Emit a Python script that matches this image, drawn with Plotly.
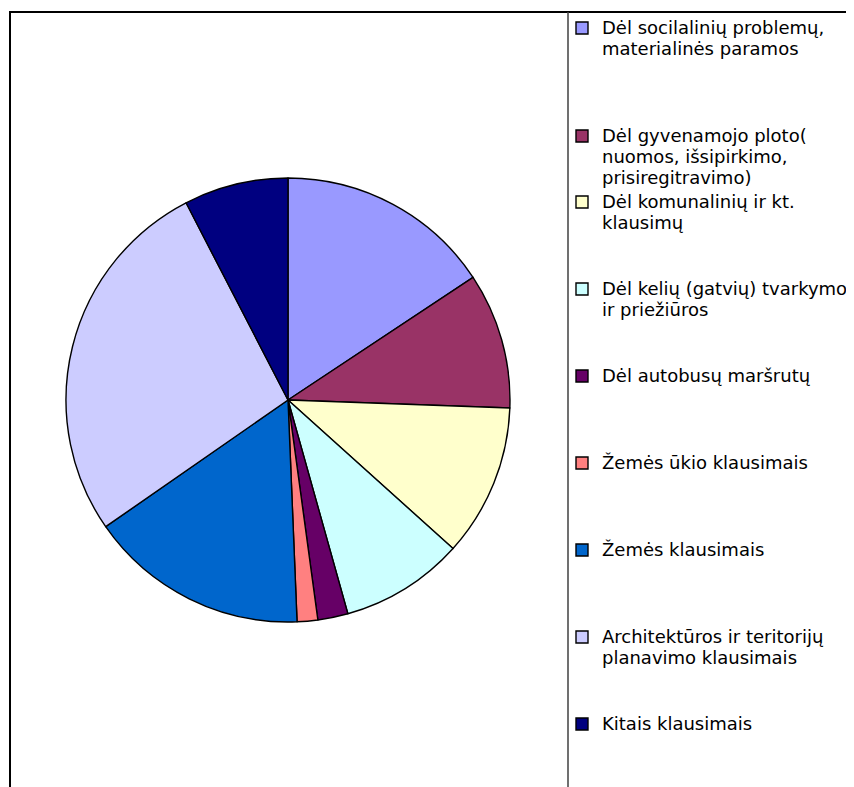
import plotly.graph_objects as go

# ---- data ----
category_lines = [
    ["Dėl socilalinių problemų,", "materialinės paramos"],
    ["Dėl gyvenamojo ploto(", "nuomos, išsipirkimo,", "prisiregitravimo)"],
    ["Dėl komunalinių ir kt.", "klausimų"],
    ["Dėl kelių (gatvių) tvarkymo", "ir priežiūros"],
    ["Dėl autobusų maršrutų"],
    ["Žemės ūkio klausimais"],
    ["Žemės klausimais"],
    ["Architektūros ir teritorijų", "planavimo klausimais"],
    ["Kitais klausimais"],
]
values = [15.7, 9.9, 11.1, 9.0, 2.2, 1.5, 16.0, 27.1, 7.6]
colors = ["#9999FF", "#993366", "#FFFFCC", "#CCFFFF", "#660066",
          "#FF8080", "#0066CC", "#CCCCFF", "#000080"]

# ---- legend text layout (blank lines spread the entries like the original) ----
legend_padding = [3, 0, 2, 2, 3, 3, 3, 2, 0]
TEXT_PX = 18
FONT = "DejaVu Sans, Liberation Sans, Arial, sans-serif"


def legend_label(lines, pad):
    body = "<br>".join(f'<span style="font-size:{TEXT_PX}px">{ln}</span>' for ln in lines)
    return body + "<br>\u00a0" * pad


labels = [legend_label(l, p) for l, p in zip(category_lines, legend_padding)]

W, H = 854, 787
cx, cy, r = 280, 392, 222   # pie centre / radius in figure pixels

fig = go.Figure(
    go.Pie(
        labels=labels,
        values=values,
        sort=False,
        direction="clockwise",
        rotation=0,
        textinfo="none",
        hoverinfo="percent",
        marker=dict(colors=colors, line=dict(color="black", width=1.4)),
        domain=dict(x=[(cx - r) / W, (cx + r) / W],
                    y=[(H - cy - r) / H, (H - cy + r) / H]),
    )
)

fig.update_layout(
    width=W,
    height=H,
    margin=dict(l=0, r=0, t=0, b=0, autoexpand=False),
    paper_bgcolor="white",
    plot_bgcolor="white",
    font=dict(family=FONT, color="black"),
    showlegend=True,
    legend=dict(
        x=554 / W, xanchor="left",
        y=1 - 3 / H, yanchor="top",
        bgcolor="rgba(0,0,0,0)",
        borderwidth=0,
        valign="top",
        font=dict(size=21 / 1.3, family=FONT, color="black"),
    ),
    shapes=[
        dict(type="rect", xref="paper", yref="paper",
             x0=2 / W, x1=1.2, y0=-0.2, y1=1 - 4 / H,
             line=dict(color="black", width=2), layer="below"),
        dict(type="line", xref="paper", yref="paper",
             x0=560 / W, x1=560 / W, y0=-0.2, y1=1 - 4 / H,
             line=dict(color="#404040", width=1.5), layer="below"),
    ],
)

fig.write_html("out.html")
